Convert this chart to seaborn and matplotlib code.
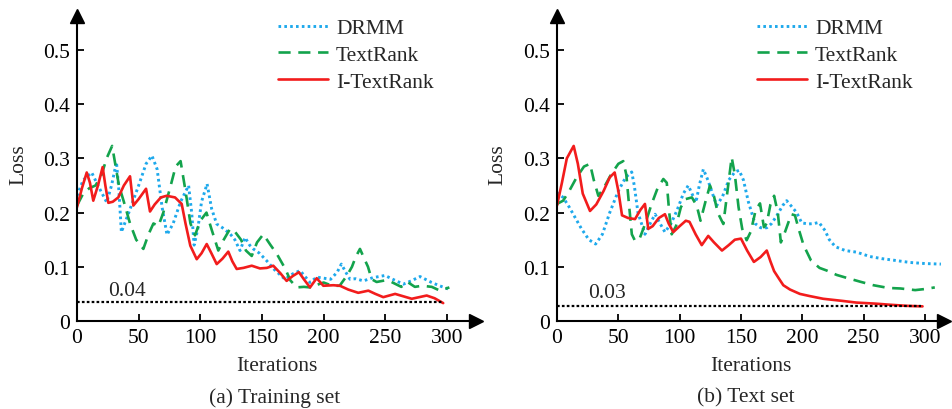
import numpy as np
import pandas as pd
import matplotlib
matplotlib.use("Agg")
import matplotlib.pyplot as plt
import seaborn as sns

# ---------------- data ----------------
# (a) Training set
a_itr_x = [0, 4, 7.9, 10.5, 13.2, 17, 20.8, 23, 25.4, 29, 33.5, 38, 43, 45.7, 50, 56, 59.2, 63, 68, 72.7,
           79.5, 84.9, 88, 91.9, 97.1, 101, 105.2, 109, 113.3, 118, 122.7, 126, 129.5, 135, 141.7, 148.4,
           154, 159.2, 165, 170, 175, 180, 184, 189, 194.4, 199.8, 207.9, 213.3, 220, 228.1, 236.3, 242,
           248.4, 258, 264, 271.5, 283.6, 290, 297]
a_itr_y = [0.210, 0.245, 0.274, 0.255, 0.222, 0.25, 0.284, 0.25, 0.218, 0.220, 0.228, 0.25, 0.267, 0.213,
           0.225, 0.244, 0.202, 0.215, 0.228, 0.231, 0.228, 0.216, 0.18, 0.139, 0.114, 0.125, 0.142, 0.125,
           0.105, 0.115, 0.128, 0.11, 0.096, 0.098, 0.102, 0.097, 0.098, 0.102, 0.088, 0.074, 0.083, 0.090,
           0.077, 0.062, 0.079, 0.065, 0.066, 0.065, 0.058, 0.052, 0.056, 0.05, 0.044, 0.050, 0.046, 0.041,
           0.047, 0.042, 0.033]

a_drmm_x = [0, 5, 11.9, 17, 24.1, 28, 32, 34, 36, 42, 50, 56, 60.8, 65, 69, 73, 78, 84, 90.5, 93, 95, 98,
            101, 105.5, 109.2, 113.3, 118, 124.1, 128, 132.2, 136.3, 140, 143, 148, 153.9, 160, 168.7, 175,
            180.9, 185, 189, 194.4, 200, 205.7, 211, 214.4, 218, 221.4, 226, 232.3, 240, 249.8, 257, 264.7,
            271, 278.2, 287.7, 294, 301.2]
a_drmm_y = [0.231, 0.26, 0.274, 0.25, 0.219, 0.25, 0.293, 0.24, 0.164, 0.2, 0.25, 0.29, 0.305, 0.28, 0.21,
            0.159, 0.18, 0.22, 0.25, 0.2, 0.14, 0.17, 0.22, 0.253, 0.207, 0.179, 0.172, 0.161, 0.15, 0.130,
            0.154, 0.14, 0.133, 0.125, 0.111, 0.095, 0.077, 0.087, 0.093, 0.082, 0.071, 0.081, 0.079, 0.077,
            0.090, 0.105, 0.09, 0.077, 0.078, 0.074, 0.080, 0.084, 0.076, 0.068, 0.074, 0.082, 0.071, 0.065,
            0.059]

a_tr_x = [0, 5, 10, 15, 20, 24, 28.5, 31, 34, 38, 43, 48, 53.8, 58, 62, 66, 70, 76, 80, 84, 88, 92, 95.7,
          100, 105, 109, 114.6, 119, 124.1, 128, 133, 137, 141.7, 146, 151.1, 157, 162, 169, 173, 178.2, 184,
          189, 195, 200, 207, 213, 219, 223, 226, 229.5, 233, 236, 239, 243, 250, 255, 263, 268, 274, 280,
          287.7, 294.4, 302]
a_tr_y = [0.213, 0.235, 0.245, 0.25, 0.27, 0.30, 0.323, 0.29, 0.25, 0.22, 0.18, 0.15, 0.133, 0.16, 0.18,
          0.175, 0.20, 0.25, 0.285, 0.295, 0.24, 0.18, 0.158, 0.185, 0.20, 0.17, 0.130, 0.15, 0.170, 0.165,
          0.15, 0.13, 0.120, 0.145, 0.160, 0.14, 0.124, 0.096, 0.075, 0.062, 0.063, 0.062, 0.067, 0.071,
          0.065, 0.065, 0.084, 0.10, 0.118, 0.133, 0.115, 0.10, 0.077, 0.072, 0.075, 0.072, 0.063, 0.072,
          0.063, 0.065, 0.063, 0.056, 0.062]

# (b) Text set
b_itr_x = [0, 4, 8, 13.6, 17, 21, 26.9, 32, 38, 43, 47, 50, 53, 58, 63.6, 68, 71.7, 74.4, 78, 83, 88, 91,
           94.8, 100, 105, 108, 113, 118, 123.3, 128, 134.5, 140, 145, 150, 155, 160.5, 166, 171, 174, 177,
           181, 184.5, 190, 198, 206, 217, 233, 244, 260, 271.5, 285, 298]
b_itr_y = [0.213, 0.255, 0.30, 0.323, 0.29, 0.235, 0.203, 0.215, 0.24, 0.265, 0.274, 0.24, 0.195, 0.19,
           0.188, 0.205, 0.216, 0.170, 0.175, 0.19, 0.197, 0.18, 0.164, 0.175, 0.185, 0.183, 0.16, 0.140,
           0.157, 0.145, 0.130, 0.14, 0.15, 0.152, 0.13, 0.109, 0.118, 0.130, 0.11, 0.092, 0.078, 0.066,
           0.058, 0.050, 0.046, 0.041, 0.037, 0.034, 0.032, 0.030, 0.028, 0.027]

b_drmm_x = [0, 5, 10, 15, 20, 26, 31.5, 37, 43, 50, 56, 60.9, 63, 66, 71.7, 76, 80, 84, 88, 93, 98, 103,
            107, 110, 113.3, 116, 119.3, 123, 127.4, 130.2, 135, 140, 145, 148.5, 152, 156, 161.4, 166, 171,
            175, 179.1, 184, 187.2, 191, 195.4, 199.5, 205, 210, 213.5, 218.5, 222, 227, 235, 244.3, 255,
            265, 275, 287.8, 300, 313]
b_drmm_y = [0.237, 0.228, 0.21, 0.19, 0.17, 0.15, 0.142, 0.16, 0.2, 0.24, 0.265, 0.275, 0.25, 0.2, 0.16,
            0.18, 0.197, 0.18, 0.164, 0.18, 0.205, 0.235, 0.25, 0.235, 0.219, 0.25, 0.280, 0.26, 0.231,
            0.213, 0.23, 0.26, 0.275, 0.278, 0.26, 0.22, 0.180, 0.172, 0.172, 0.18, 0.194, 0.213, 0.222,
            0.212, 0.200, 0.181, 0.179, 0.180, 0.182, 0.167, 0.150, 0.137, 0.130, 0.127, 0.119, 0.115,
            0.112, 0.108, 0.106, 0.105]

b_tr_x = [0, 5, 10, 16, 22, 26.9, 30, 33.7, 38, 44, 50, 54, 56.5, 58.5, 61, 63.6, 67, 72, 77, 82, 86.7,
          89.5, 91.5, 93.5, 97, 101, 105, 110, 114, 117, 121, 124.7, 128, 131, 135.6, 139, 142.4, 145, 148,
          151, 154.6, 158, 162, 165.5, 168.7, 171, 174, 177, 180, 182.5, 186, 191, 194, 197, 201, 207, 214,
          220, 228, 237, 248, 258, 270, 280, 292, 300, 308]
b_tr_y = [0.216, 0.222, 0.24, 0.265, 0.285, 0.290, 0.26, 0.231, 0.245, 0.27, 0.29, 0.295, 0.27, 0.22, 0.16,
          0.148, 0.15, 0.18, 0.215, 0.245, 0.262, 0.255, 0.20, 0.160, 0.175, 0.21, 0.225, 0.228, 0.212,
          0.185, 0.22, 0.250, 0.23, 0.20, 0.179, 0.24, 0.302, 0.27, 0.21, 0.17, 0.149, 0.165, 0.205, 0.217,
          0.173, 0.18, 0.215, 0.231, 0.20, 0.145, 0.165, 0.197, 0.195, 0.17, 0.14, 0.112, 0.098, 0.093,
          0.085, 0.079, 0.072, 0.066, 0.061, 0.060, 0.057, 0.059, 0.062]

series_names = ["DRMM", "TextRank", "I-TextRank"]
thresholds = [0.035, 0.027]
threshold_labels = ["0.04", "0.03"]
threshold_end = 297
x_ticks = [0, 50, 100, 150, 200, 250, 300]
y_ticks = [0, 0.1, 0.2, 0.3, 0.4, 0.5]
y_tick_labels = ["0", "0.1", "0.2", "0.3", "0.4", "0.5"]
panel_titles = ["(a) Training set", "(b) Text set"]

# ---------------- style ----------------
sns.set_theme(style="white")
plt.rcParams["font.family"] = ["Liberation Serif", "DejaVu Serif"]

colors = {"DRMM": "#1ea9ec", "TextRank": "#13a34c", "I-TextRank": "#f21c1c"}
dashes = {"DRMM": (0.9, 1.1), "TextRank": (4.6, 2.9), "I-TextRank": ""}
widths = {"DRMM": 2.1, "TextRank": 1.9, "I-TextRank": 1.9}
FS = 15.5

W, H = 953, 410
fig = plt.figure(figsize=(W / 100, H / 100), dpi=100)

panels = [
    dict(rect=[77 / W, (H - 322) / H, 399 / W, 305 / H], xmax=323.6,
         data={"DRMM": (a_drmm_x, a_drmm_y), "TextRank": (a_tr_x, a_tr_y), "I-TextRank": (a_itr_x, a_itr_y)},
         thr=thresholds[0], thr_lab=threshold_labels[0], lab_xy=(25, 0.057), legend_x=278,
         ylab_x=-0.122, title_x=275, title=panel_titles[0]),
    dict(rect=[557 / W, (H - 322) / H, 387 / W, 305 / H], xmax=315.5,
         data={"DRMM": (b_drmm_x, b_drmm_y), "TextRank": (b_tr_x, b_tr_y), "I-TextRank": (b_itr_x, b_itr_y)},
         thr=thresholds[1], thr_lab=threshold_labels[1], lab_xy=(25.3, 0.0535), legend_x=757,
         ylab_x=-0.128, title_x=746, title=panel_titles[1]),
]

ymax = 305 / 542.0
for p in panels:
    ax = fig.add_axes(p["rect"])
    frames = []
    for name in series_names:
        xs, ys = p["data"][name]
        frames.append(pd.DataFrame({"Iterations": xs, "Loss": ys, "model": name}))
    df = pd.concat(frames, ignore_index=True)
    sns.lineplot(data=df, x="Iterations", y="Loss", hue="model", style="model",
                 hue_order=series_names, style_order=series_names,
                 palette=colors, dashes=dashes, sort=False, estimator=None, ax=ax, legend=False)
    for line, name in zip(ax.get_lines(), series_names):
        line.set_linewidth(widths[name])
        line.set_solid_capstyle("round")
        line.set_solid_joinstyle("round")
        line.set_dash_joinstyle("round")
        line.set_dash_capstyle("butt")

    # threshold line
    ax.plot([0, threshold_end], [p["thr"], p["thr"]], color="black", lw=1.6,
            linestyle=(0, (1.2, 1.0)))
    ax.text(p["lab_xy"][0], p["lab_xy"][1], p["thr_lab"], fontsize=FS, va="center", ha="left")

    ax.set_xlim(0, p["xmax"])
    ax.set_ylim(0, ymax)
    ax.set_xticks(x_ticks)
    ax.set_yticks(y_ticks)
    ax.set_yticklabels(y_tick_labels)
    ax.tick_params(axis="both", direction="in", length=5, width=1.3, labelsize=FS,
                   colors="black", pad=5, left=True, bottom=True)
    for s in ["top", "right"]:
        ax.spines[s].set_visible(False)
    for s in ["left", "bottom"]:
        ax.spines[s].set_linewidth(1.5)
        ax.spines[s].set_color("black")
    # arrows at the ends of the axes
    ax.plot(1, 0, marker=">", color="black", ms=9.5, transform=ax.transAxes, clip_on=False)
    ax.plot(0, 1, marker="^", color="black", ms=9.5, transform=ax.transAxes, clip_on=False)

    ax.set_xlabel("Iterations", fontsize=FS)
    ax.set_ylabel("Loss", fontsize=FS)
    ax.xaxis.set_label_coords(0.5, -0.115)
    ax.yaxis.set_label_coords(p["ylab_x"], 0.515)

    # legend
    handles = [plt.Line2D([], [], color=colors[n], lw=widths[n],
                          linestyle=((0, dashes[n]) if dashes[n] else "-")) for n in series_names]
    fig.legend(handles, series_names, loc="upper left",
               bbox_to_anchor=(p["legend_x"] / W, 1 - 19 / H), bbox_transform=fig.transFigure,
               frameon=False, fontsize=FS, handlelength=2.3, handletextpad=0.4,
               labelspacing=0.32, borderpad=0, borderaxespad=0)

    fig.text(p["title_x"] / W, 1 - 398 / H, p["title"], fontsize=FS, ha="center", va="center")

fig.savefig("out.png", dpi=100)
